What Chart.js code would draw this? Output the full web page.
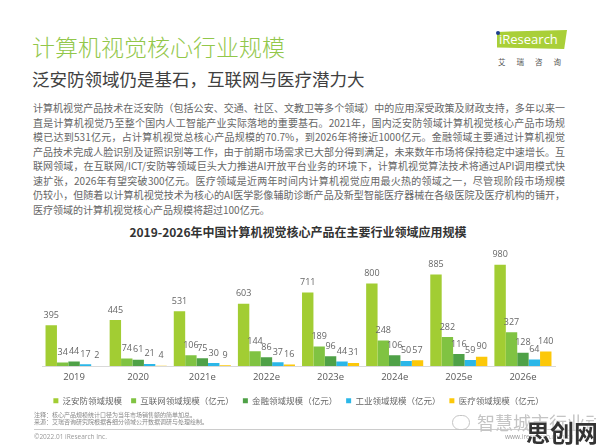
<!DOCTYPE html>
<html>
<head>
<meta charset="utf-8">
<script src="https://cdn.jsdelivr.net/npm/chart.js@4.4.1/dist/chart.umd.min.js"></script>
<style>
body { margin: 0; background: #fff; font-family: "Noto Sans CJK SC", "Noto Sans", sans-serif; }
#page { position: relative; width: 596px; height: 446px; overflow: hidden; background: #fff; }
.abs { position: absolute; white-space: nowrap; }
#title { left: 32px; top: 35px; font-size: 23px; line-height: 23px; color: #92c74a; font-weight: 300; }
#subtitle { left: 32px; top: 70px; font-size: 17.5px; line-height: 18px; color: #404040; }
#logo { left: 497px; top: 30px; width: 70px; height: 19px; background: #a9cf38;
        clip-path: polygon(0 10%, 100% 0, 96% 100%, 0 92%); }
#logoText { left: 499px; top: 30px; font-family: "Open Sans", sans-serif; font-size: 13px; line-height: 19px; color: #fff; }
#logoDot { left: 496px; top: 31px; width: 4px; height: 4px; border-radius: 2px; background: #1d3f8f; }
#logoCn { left: 498px; top: 57px; font-size: 7.5px; line-height: 9px; color: #555; letter-spacing: 11px; }
#para { left: 33px; top: 101px; width: 532px; font-size: 10px; line-height: 14.5px; color: #666; }
#para div { text-align: justify; text-align-last: justify; }
#para div.last { text-align-last: left; }
#chartTitle { left: 0; top: 225px; width: 596px; text-align: center; font-size: 12px; line-height: 14px; font-weight: bold; color: #333; }
#chartBox { position: absolute; left: 0; top: 250px; width: 596px; height: 165px; }
#notes { left: 34px; top: 411px; font-size: 6px; line-height: 7px; color: #888; }
#rule { left: 34px; top: 429px; width: 528px; height: 1px; background: #ccc; }
#copy { left: 34px; top: 433px; font-family: "Open Sans", sans-serif; font-size: 6.5px; line-height: 8px; color: #999; }
#site { left: 505px; top: 433px; font-family: "Open Sans", sans-serif; font-size: 6.5px; line-height: 8px; color: #999; }
#wm1 { left: 477px; top: 412px; font-size: 18px; line-height: 20px; color: #c4c4c4; }
#wmIcon { left: 452px; top: 415px; width: 16px; height: 13px; border: 1.5px solid #c4c4c4; border-radius: 8px; }
#wm2 { left: 526px; top: 418px; font-size: 24px; line-height: 28px; font-weight: bold; color: #333;
       text-shadow: 0 0 2px #fff, 0 0 2px #fff; }
</style>
</head>
<body>
<div id="page">
  <div class="abs" id="title">计算机视觉核心行业规模</div>
  <div class="abs" id="subtitle">泛安防领域仍是基石，互联网与医疗潜力大</div>
  <div class="abs" id="logo"></div>
  <div class="abs" id="logoText">iResearch</div>
  <div class="abs" id="logoDot"></div>
  <div class="abs" id="logoCn">艾瑞咨询</div>
  <div class="abs" id="para">
    <div>计算机视觉产品技术在泛安防（包括公安、交通、社区、文教卫等多个领域）中的应用深受政策及财政支持，多年以来一</div>
    <div>直是计算机视觉乃至整个国内人工智能产业实际落地的重要基石。2021年，国内泛安防领域计算机视觉核心产品市场规</div>
    <div>模已达到531亿元，占计算机视觉总核心产品规模的70.7%，到2026年将接近1000亿元。金融领域主要通过计算机视觉</div>
    <div>产品技术完成人脸识别及证照识别等工作，由于前期市场需求已大部分得到满足，未来数年市场将保持稳定中速增长。互</div>
    <div>联网领域，在互联网/ICT/安防等领域巨头大力推进AI开放平台业务的环境下，计算机视觉算法技术将通过API调用模式快</div>
    <div>速扩张，2026年有望突破300亿元。医疗领域是近两年时间内计算机视觉应用最火热的领域之一，尽管现阶段市场规模</div>
    <div>仍较小，但随着以计算机视觉技术为核心的AI医学影像辅助诊断产品及新型智能医疗器械在各级医院及医疗机构的铺开，</div>
    <div class="last">医疗领域的计算机视觉核心产品规模将超过100亿元。</div>
  </div>
  <div class="abs" id="chartTitle">2019-2026年中国计算机视觉核心产品在主要行业领域应用规模</div>
  <div id="chartBox"><canvas id="cvChart"></canvas></div>
  <div class="abs" id="notes">注释：核心产品规模统计口径为当年市场销售额的简单加总。<br>来源：艾瑞咨询研究院根据各细分领域公开数据调研与处理绘制。</div>
  <div class="abs" id="rule"></div>
  <div class="abs" id="copy">©2022.01 iResearch Inc.</div>
  <div class="abs" id="site">www.iresearch.com.cn</div>
  <div class="abs" id="wmIcon"></div>
  <div class="abs" id="wm1">智慧城市行业动态</div>
  <div class="abs" id="wm2">思创网</div>
</div>
<script>
// 2019-2026 CV core product scale by industry (亿元)
const years = ['2019', '2020', '2021e', '2022e', '2023e', '2024e', '2025e', '2026e'];
const security = [395, 445, 531, 603, 711, 800, 885, 980];
const internet = [34, 74, 106, 144, 189, 248, 282, 327];
const finance = [44, 61, 75, 86, 96, 106, 116, 128];
const industry = [17, 21, 30, 37, 44, 50, 59, 64];
const medical = [2, 4, 9, 16, 31, 57, 90, 140];
const seriesNames = ['泛安防领域规模', '互联网领域规模（亿元）', '金融领域规模（亿元）', '工业领域规模（亿元）', '医疗领域规模（亿元）'];

const seriesData = [security, internet, finance, industry, medical];
const seriesColors = ['#a2cd33', '#80c342', '#4fa147', '#2bb7e8', '#fcc80a'];

// numbers above every bar
const valueLabels = {
    id: 'valueLabels',
    afterDatasetsDraw(chart) {
        const ctx = chart.ctx;
        ctx.save();
        ctx.font = '9px "Open Sans", sans-serif';
        ctx.fillStyle = '#666';
        ctx.textAlign = 'center';
        ctx.textBaseline = 'middle';
        chart.data.datasets.forEach((ds, i) => {
            chart.getDatasetMeta(i).data.forEach((bar, j) => {
                ctx.fillText(ds.data[j], bar.x, bar.y - 10);
            });
        });
        ctx.restore();
    }
};

const cvCtx = document.getElementById('cvChart').getContext('2d');
const cvChart = new Chart(cvCtx, {
    type: 'bar',
    data: {
        labels: years,
        datasets: seriesNames.map((name, i) => ({
            label: name,
            data: seriesData[i],
            backgroundColor: seriesColors[i],
            borderWidth: 0,
            categoryPercentage: 0.89,
            barPercentage: 1.0
        }))
    },
    options: {
        responsive: true,
        maintainAspectRatio: false,
        animation: false,
        layout: {
            padding: { top: 12.7, left: 42, right: 41, bottom: 0 }
        },
        scales: {
            x: {
                grid: { display: false, drawTicks: false },
                border: { color: '#d9d9d9' },
                ticks: {
                    color: '#595959',
                    padding: 5,
                    font: { family: '"Open Sans", sans-serif', size: 9.5 }
                }
            },
            y: {
                display: false,
                beginAtZero: true,
                max: 1000
            }
        },
        plugins: {
            legend: {
                position: 'bottom',
                labels: {
                    boxWidth: 5,
                    boxHeight: 5,
                    padding: 9,
                    color: '#666',
                    font: { family: '"Noto Sans CJK SC", sans-serif', size: 8.5 }
                }
            },
            tooltip: { enabled: false }
        }
    },
    plugins: [valueLabels]
});
</script>
</body>
</html>
